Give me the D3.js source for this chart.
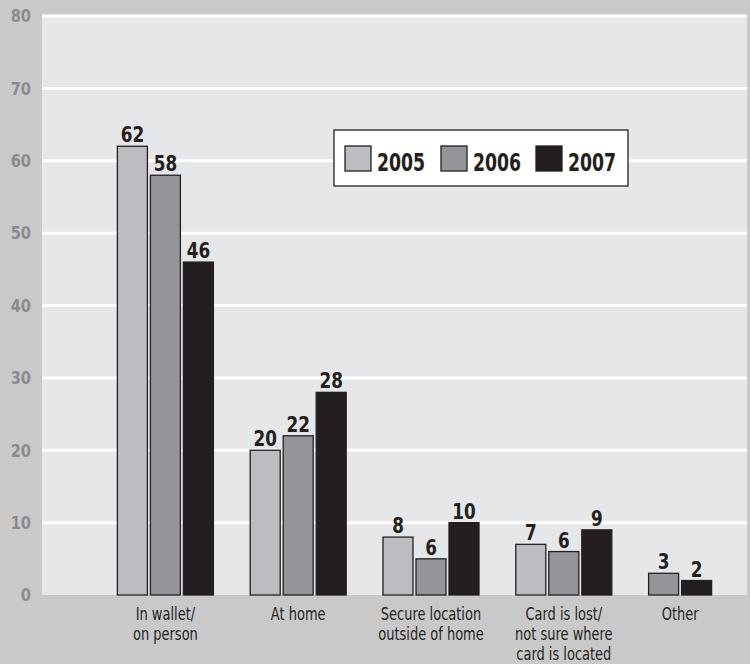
<!DOCTYPE html>
<html><head><meta charset="utf-8">
<script src="https://cdn.jsdelivr.net/npm/d3@7"></script>
<style>
html,body{margin:0;padding:0;background:#c9c9ca;}
svg{display:block;}
</style></head>
<body>
<svg id="chart" width="750" height="664"></svg>
<script>
const categories = [["In wallet/","on person"],["At home"],["Secure location","outside of home"],["Card is lost/","not sure where","card is located"],["Other"]];
const years = ["2005","2006","2007"];
const values2005 = [62, 20, 8, 7, null];
const values2006 = [58, 22, 5, 6, 3];
const values2007 = [46, 28, 10, 9, 2];
const labels2005 = ["62","20","8","7",""];
const labels2006 = ["58","22","6","6","3"];
const labels2007 = ["46","28","10","9","2"];
const yTicks = [0,10,20,30,40,50,60,70,80];
const colors = ["#bcbdc0","#939598","#231f20"];

const FONT = "'DejaVu Sans Condensed','DejaVu Sans',sans-serif";
const svg = d3.select("#chart");
const plot = {left:42, right:747, top:16, bottom:595};

const y = d3.scaleLinear().domain([0,80]).range([plot.bottom, plot.top]);
const catIdx = categories.map((d,i)=>i);
const x0 = d3.scaleBand().domain(catIdx).range([99, 763]);
const barW = 30, gap = 3;

svg.append("rect").attr("x",plot.left).attr("y",plot.top)
  .attr("width",plot.right-plot.left).attr("height",plot.bottom-plot.top).attr("fill","#e6e7e8");

svg.append("g").selectAll("line").data(yTicks.filter(t=>t>0)).join("line")
  .attr("x1",plot.left).attr("x2",plot.right)
  .attr("y1",d=>y(d)).attr("y2",d=>y(d))
  .attr("stroke","#ffffff").attr("stroke-width",3);

svg.append("g").selectAll("text").data(yTicks).join("text")
  .attr("transform",d=>`translate(31,${y(d)}) scale(0.9,1)`).attr("dy","0.35em")
  .attr("text-anchor","end").attr("fill","#8b8b8c")
  .attr("font-family",FONT).attr("font-weight","bold").attr("font-size",18)
  .text(d=>d);

const series = [values2005, values2006, values2007];
const seriesLabels = [labels2005, labels2006, labels2007];

const bars = [];
const catCenters = [];
catIdx.forEach(ci=>{
  const present = [0,1,2].filter(s=>series[s][ci]!=null);
  const fullW = 3*barW + 2*gap;
  const left = x0(ci) + x0.bandwidth()/2 - fullW/2;
  const groupW = present.length*barW + (present.length-1)*gap;
  catCenters.push(left + groupW/2);
  present.forEach((s,k)=>{
    bars.push({ci, s, v:series[s][ci], label:seriesLabels[s][ci], x: left + k*(barW+gap)});
  });
});

svg.append("g").selectAll("rect").data(bars).join("rect")
  .attr("x",d=>d.x).attr("y",d=>y(d.v))
  .attr("width",barW).attr("height",d=>y(0)-y(d.v))
  .attr("fill",d=>colors[d.s]).attr("stroke","#231f20").attr("stroke-width",1.3);

svg.append("g").selectAll("text").data(bars).join("text")
  .attr("transform",d=>`translate(${d.x+barW/2},${y(d.v)-4}) scale(0.85,1)`)
  .attr("text-anchor","middle").attr("fill","#231f20")
  .attr("font-family",FONT).attr("font-weight","bold").attr("font-size",22)
  .text(d=>d.label);

const catG = svg.append("g");
catIdx.forEach(ci=>{
  const cx = catCenters[ci];
  const t = catG.append("text").attr("transform",`translate(${cx},620) scale(0.85,1)`)
    .attr("text-anchor","middle").attr("fill","#231f20")
    .attr("font-family",FONT).attr("font-size",17);
  categories[ci].forEach((line,li)=>{
    t.append("tspan").attr("x",0).attr("dy",li===0?0:20).text(line);
  });
});

const lg = svg.append("g");
lg.append("rect").attr("x",334).attr("y",130).attr("width",294).attr("height",56)
  .attr("fill","#ffffff").attr("stroke","#231f20").attr("stroke-width",1.3);
const legX = [345, 441, 536];
years.forEach((yr,i)=>{
  lg.append("rect").attr("x",legX[i]).attr("y",146).attr("width",26).attr("height",25)
    .attr("fill",colors[i]).attr("stroke","#231f20").attr("stroke-width",1.3);
  lg.append("text").attr("transform",`translate(${legX[i]+32},171) scale(0.8,1)`)
    .attr("fill","#231f20").attr("font-family",FONT).attr("font-weight","bold").attr("font-size",24)
    .text(yr);
});
</script>
</body></html>
